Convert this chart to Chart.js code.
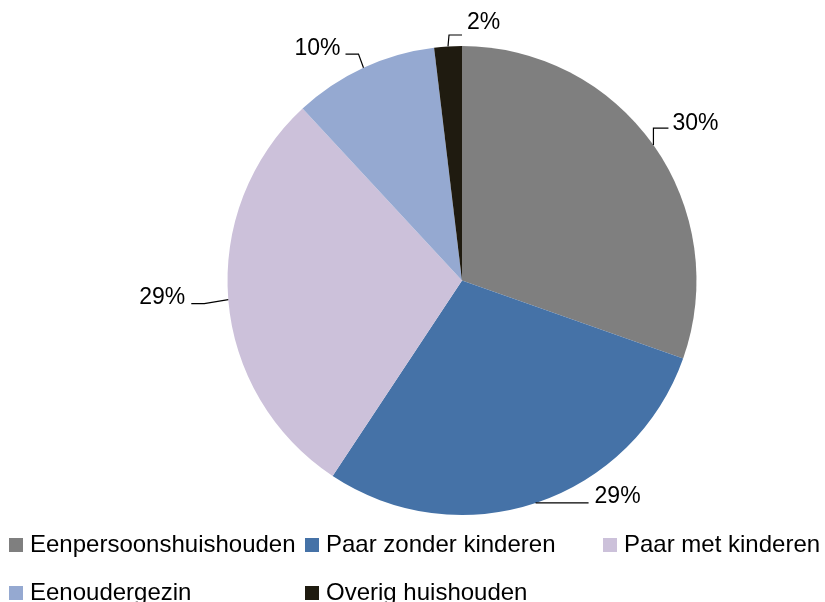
<!DOCTYPE html>
<html>
<head>
<meta charset="utf-8">
<script src="https://cdn.jsdelivr.net/npm/chart.js@4/dist/chart.umd.min.js"></script>
<style>
  html, body { margin: 0; padding: 0; background: #fff; }
  #wrap { width: 825px; height: 602px; }
</style>
</head>
<body>
<div id="wrap"><canvas id="pieChart" width="825" height="602"></canvas></div>
<script>
const categories = ["Eenpersoonshuishouden", "Paar zonder kinderen", "Paar met kinderen", "Eenoudergezin", "Overig huishouden"];
const shares = [30.4, 28.9, 28.8, 10.0, 1.9];
const sliceColors = ["#7f7f7f", "#4572a7", "#ccc1da", "#95a9d1", "#1f1b10"];

// leader line bends + label spot, relative to the slice's outer mid point
const labelLayout = [
  { pts: [[0, -17], [15, -17]], tx: 19, ty: -15, align: "left" },
  { pts: [[-1, 0], [52, 0]], tx: 58, ty: 0, align: "left" },
  { pts: [[-24, 4], [-37, 4]], tx: -43, ty: 4, align: "right" },
  { pts: [[-5, -13.6], [-18, -13.6]], tx: -23, ty: -12.6, align: "right" },
  { pts: [[1, -11.4], [14, -11.4]], tx: 19, ty: -17.4, align: "left" }
];

const FONT = "'Liberation Sans', Arial, sans-serif";

const leaderLabels = {
  id: "leaderLabels",
  afterDatasetsDraw(chart) {
    const ctx = chart.ctx;
    const arcs = chart.getDatasetMeta(0).data;
    ctx.save();
    ctx.strokeStyle = "#000";
    ctx.lineWidth = 1.2;
    ctx.fillStyle = "#000";
    ctx.font = "23px " + FONT;
    ctx.textBaseline = "alphabetic";
    arcs.forEach((arc, i) => {
      const mid = (arc.startAngle + arc.endAngle) / 2;
      const ax = arc.x + Math.cos(mid) * arc.outerRadius;
      const ay = arc.y + Math.sin(mid) * arc.outerRadius;
      const lay = labelLayout[i];
      ctx.beginPath();
      ctx.moveTo(ax, ay);
      lay.pts.forEach(p => ctx.lineTo(ax + p[0], ay + p[1]));
      ctx.stroke();
      ctx.textAlign = lay.align;
      ctx.fillText(Math.round(shares[i]) + "%", ax + lay.tx, ay + lay.ty);
    });
    ctx.restore();
  }
};

// legend drawn as a grid, like the original
const gridLegend = {
  id: "gridLegend",
  afterDraw(chart) {
    const ctx = chart.ctx;
    const colX = [9, 305, 603];
    const rowY = [552, 600];
    ctx.save();
    ctx.font = "24px " + FONT;
    ctx.textAlign = "left";
    ctx.textBaseline = "alphabetic";
    categories.forEach((name, i) => {
      const x = colX[i % 3];
      const y = rowY[Math.floor(i / 3)];
      ctx.fillStyle = sliceColors[i];
      ctx.fillRect(x, y - 14, 14, 14);
      ctx.fillStyle = "#000";
      ctx.fillText(name, x + 21, y);
    });
    ctx.restore();
  }
};

new Chart(document.getElementById("pieChart"), {
  type: "pie",
  data: {
    labels: categories,
    datasets: [{
      data: shares,
      backgroundColor: sliceColors,
      borderWidth: 0
    }]
  },
  options: {
    responsive: false,
    animation: false,
    layout: { padding: { top: 46, bottom: 87, left: 180, right: 81 } },
    plugins: {
      legend: { display: false },
      tooltip: { enabled: false }
    }
  },
  plugins: [leaderLabels, gridLegend]
});
</script>
</body>
</html>
